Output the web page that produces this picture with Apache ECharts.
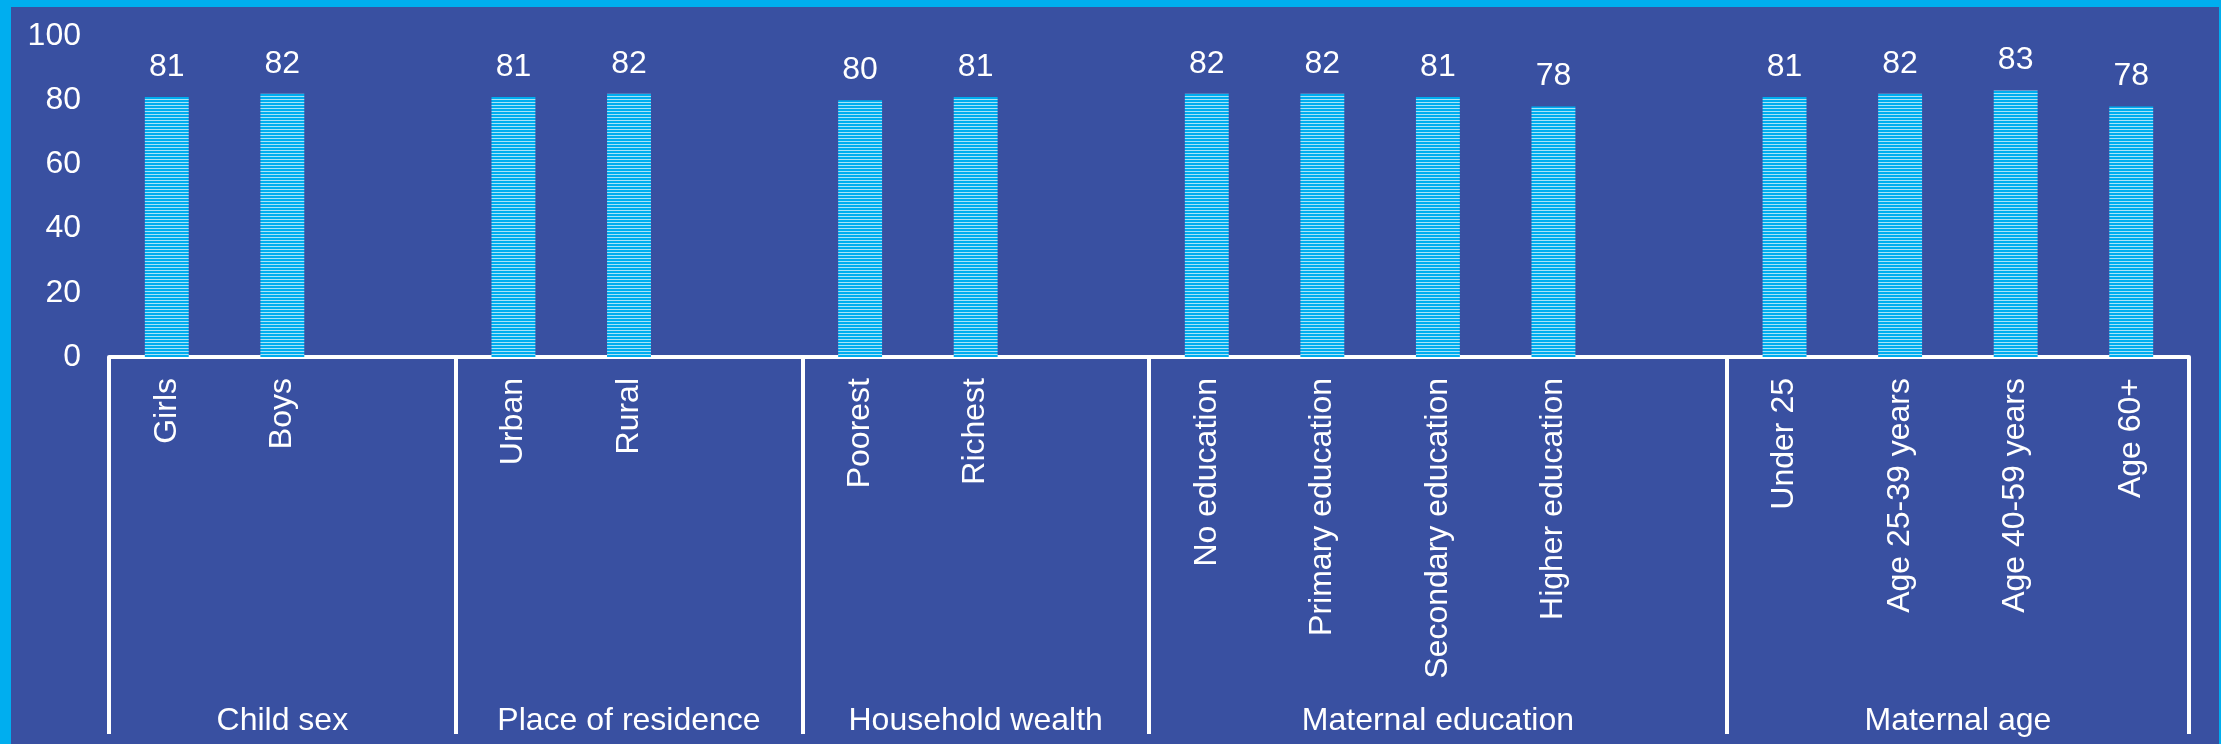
<!DOCTYPE html>
<html>
<head>
<meta charset="utf-8">
<script src="https://cdn.jsdelivr.net/npm/echarts@6/dist/echarts.min.js"></script>
<style>
  html, body { margin: 0; padding: 0; }
  body { width: 2221px; height: 744px; background: #00aeef; position: relative; overflow: hidden; }
  #chart { position: absolute; left: 11px; top: 7px; width: 2208px; height: 737px; background: #3950a1; }
</style>
</head>
<body>
<div id="chart"></div>
<script>
// Grupos y valores (%)
var groupNames = ["Child sex", "Place of residence", "Household wealth", "Maternal education", "Maternal age"];
var groupItems = [
    ["Girls", "Boys"],
    ["Urban", "Rural"],
    ["Poorest", "Richest"],
    ["No education", "Primary education", "Secondary education", "Higher education"],
    ["Under 25", "Age 25-39 years", "Age 40-59 years", "Age 60+"]
];
var groupValues = [
    [81, 82],
    [81, 82],
    [80, 81],
    [82, 82, 81, 78],
    [81, 82, 83, 78]
];
var yTicks = [0, 20, 40, 60, 80, 100];

// Construir categorías con un hueco vacío tras cada grupo (menos el último)
var categories = [];
var values = [];
var slotCounts = [];
groupItems.forEach(function (items, g) {
    items.forEach(function (name, i) {
        categories.push(name);
        values.push(groupValues[g][i]);
    });
    var n = items.length;
    if (g < groupItems.length - 1) {
        categories.push("");
        values.push("-");
        n++;
    }
    slotCounts.push(n);
});

// Eje auxiliar a media ranura: límites y centros de cada grupo
var halfCats = [];
var boundaries = [0];
var centers = [];
var acc = 0;
slotCounts.forEach(function (n) {
    centers.push(acc * 2 + n);
    acc += n;
    boundaries.push(acc * 2);
});
for (var k = 0; k <= acc * 2; k++) {
    var gi = centers.indexOf(k);
    halfCats.push(gi >= 0 ? groupNames[gi] : "");
}

// Relleno rayado horizontal de las barras
var stripe = document.createElement("canvas");
stripe.width = 4;
stripe.height = 3;
var ctx = stripe.getContext("2d");
ctx.fillStyle = "#00aeef";
ctx.fillRect(0, 0, 4, 2);
ctx.fillStyle = "#a8e3f8";
ctx.fillRect(0, 2, 4, 1);

var fontFamily = "Liberation Sans, Arial, sans-serif";
var white = "#ffffff";

var myChart = echarts.init(document.getElementById("chart"));
var option = {
    animation: false,
    grid: { left: 98, right: 30, top: 29, bottom: 387 },
    xAxis: [
        {
            type: "category",
            data: categories,
            axisLine: { show: true, lineStyle: { color: white, width: 4 } },
            axisTick: { show: false },
            axisLabel: {
                interval: 0,
                rotate: 90,
                margin: 21,
                color: white,
                fontSize: 32,
                fontFamily: fontFamily
            },
            splitLine: { show: false }
        },
        {
            type: "category",
            position: "bottom",
            boundaryGap: false,
            data: halfCats,
            axisLine: { show: false },
            axisTick: {
                show: true,
                length: 377,
                interval: function (index) { return boundaries.indexOf(index) >= 0; },
                lineStyle: { color: white, width: 4 }
            },
            axisLabel: {
                interval: 0,
                margin: 348,
                color: white,
                fontSize: 32,
                fontFamily: fontFamily
            },
            splitLine: { show: false }
        }
    ],
    yAxis: {
        type: "value",
        min: yTicks[0],
        max: yTicks[yTicks.length - 1],
        interval: 20,
        axisLine: { show: false },
        axisTick: { show: false },
        splitLine: { show: false },
        axisLabel: { color: white, fontSize: 32, fontFamily: fontFamily, margin: 28 }
    },
    series: [
        {
            type: "bar",
            data: values,
            barWidth: "38%",
            itemStyle: { color: { image: stripe, repeat: "repeat" } },
            label: {
                show: true,
                position: "top",
                distance: 14,
                color: white,
                fontSize: 32,
                fontFamily: fontFamily
            }
        }
    ]
};
myChart.setOption(option);
</script>
</body>
</html>
